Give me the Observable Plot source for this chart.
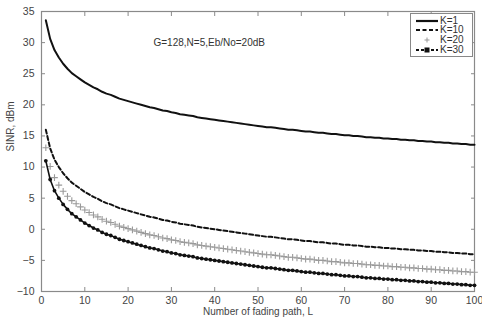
<!DOCTYPE html>
<html>
<head>
<meta charset="utf-8">
<script src="https://cdn.jsdelivr.net/npm/d3@7"></script>
<script src="https://cdn.jsdelivr.net/npm/@observablehq/plot@0.6"></script>
<style>
  html, body { margin: 0; padding: 0; background: #fff; }
  #wrap { position: relative; width: 482px; height: 322px; font-family: "Liberation Sans", Arial, sans-serif; }
  #legend { position: absolute; left: 410px; top: 13px; width: 63px; height: 44px; background: #fff; border: 1px solid #888; box-sizing: border-box; font-size: 10px; color: #333; }
  #legend .row { position: absolute; left: 0; height: 10px; width: 100%; }
  #legend svg { position: absolute; left: 4px; top: 0; }
  #legend span { position: absolute; left: 29px; top: -1px; line-height: 11px; }
</style>
</head>
<body>
<div id="wrap"><div id="chart"></div><div id="legend"></div></div>
<script>
const L = d3.range(1, 101);
const seriesNames = ["K=1", "K=10", "K=20", "K=30"];
const sinrK1 = [33.6, 30.6, 28.8, 27.6, 26.6, 25.8, 25.1, 24.6, 24.1, 23.6,
  23.2, 22.8, 22.5, 22.1, 21.8, 21.6, 21.3, 21.0, 20.8, 20.6,
  20.4, 20.2, 20.0, 19.8, 19.6, 19.5, 19.3, 19.1, 19.0, 18.8,
  18.7, 18.5, 18.4, 18.3, 18.2, 18.0, 17.9, 17.8, 17.7, 17.6,
  17.5, 17.4, 17.3, 17.2, 17.1, 17.0, 16.9, 16.8, 16.7, 16.6,
  16.5, 16.4, 16.4, 16.3, 16.2, 16.1, 16.0, 16.0, 15.9, 15.8,
  15.7, 15.7, 15.6, 15.5, 15.5, 15.4, 15.3, 15.3, 15.2, 15.1,
  15.1, 15.0, 15.0, 14.9, 14.8, 14.8, 14.7, 14.7, 14.6, 14.6,
  14.5, 14.5, 14.4, 14.4, 14.3, 14.3, 14.2, 14.2, 14.1, 14.1,
  14.0, 14.0, 13.9, 13.9, 13.8, 13.8, 13.7, 13.7, 13.6, 13.6];
const sinrK10 = [16.0, 13.0, 11.2, 10.0, 9.0, 8.2, 7.5, 7.0, 6.5, 6.0,
  5.6, 5.2, 4.9, 4.5, 4.2, 4.0, 3.7, 3.4, 3.2, 3.0,
  2.8, 2.6, 2.4, 2.2, 2.0, 1.9, 1.7, 1.5, 1.4, 1.2,
  1.1, 0.9, 0.8, 0.7, 0.6, 0.4, 0.3, 0.2, 0.1, 0.0,
  -0.1, -0.2, -0.3, -0.4, -0.5, -0.6, -0.7, -0.8, -0.9, -1.0,
  -1.1, -1.2, -1.2, -1.3, -1.4, -1.5, -1.6, -1.6, -1.7, -1.8,
  -1.9, -1.9, -2.0, -2.1, -2.1, -2.2, -2.3, -2.3, -2.4, -2.5,
  -2.5, -2.6, -2.6, -2.7, -2.8, -2.8, -2.9, -2.9, -3.0, -3.0,
  -3.1, -3.1, -3.2, -3.2, -3.3, -3.3, -3.4, -3.4, -3.5, -3.5,
  -3.6, -3.6, -3.7, -3.7, -3.8, -3.8, -3.9, -3.9, -4.0, -4.0];
const sinrK20 = [13.1, 10.1, 8.3, 7.1, 6.1, 5.3, 4.6, 4.1, 3.6, 3.1,
  2.7, 2.3, 2.0, 1.6, 1.3, 1.1, 0.8, 0.5, 0.3, 0.1,
  -0.1, -0.3, -0.5, -0.7, -0.9, -1.0, -1.2, -1.4, -1.5, -1.7,
  -1.8, -2.0, -2.1, -2.2, -2.3, -2.5, -2.6, -2.7, -2.8, -2.9,
  -3.0, -3.1, -3.2, -3.3, -3.4, -3.5, -3.6, -3.7, -3.8, -3.9,
  -4.0, -4.1, -4.1, -4.2, -4.3, -4.4, -4.5, -4.5, -4.6, -4.7,
  -4.8, -4.8, -4.9, -5.0, -5.0, -5.1, -5.2, -5.2, -5.3, -5.4,
  -5.4, -5.5, -5.5, -5.6, -5.7, -5.7, -5.8, -5.8, -5.9, -5.9,
  -6.0, -6.0, -6.1, -6.1, -6.2, -6.2, -6.3, -6.3, -6.4, -6.4,
  -6.5, -6.5, -6.6, -6.6, -6.7, -6.7, -6.8, -6.8, -6.9, -6.9];
const sinrK30 = [11.0, 8.0, 6.2, 5.0, 4.0, 3.2, 2.5, 2.0, 1.5, 1.0,
  0.6, 0.2, -0.1, -0.5, -0.8, -1.0, -1.3, -1.6, -1.8, -2.0,
  -2.2, -2.4, -2.6, -2.8, -3.0, -3.1, -3.3, -3.5, -3.6, -3.8,
  -3.9, -4.1, -4.2, -4.3, -4.4, -4.6, -4.7, -4.8, -4.9, -5.0,
  -5.1, -5.2, -5.3, -5.4, -5.5, -5.6, -5.7, -5.8, -5.9, -6.0,
  -6.1, -6.2, -6.2, -6.3, -6.4, -6.5, -6.6, -6.6, -6.7, -6.8,
  -6.9, -6.9, -7.0, -7.1, -7.1, -7.2, -7.3, -7.3, -7.4, -7.5,
  -7.5, -7.6, -7.6, -7.7, -7.8, -7.8, -7.9, -7.9, -8.0, -8.0,
  -8.1, -8.1, -8.2, -8.2, -8.3, -8.3, -8.4, -8.4, -8.5, -8.5,
  -8.6, -8.6, -8.7, -8.7, -8.8, -8.8, -8.9, -8.9, -9.0, -9.0];
const xTicks = [0, 10, 20, 30, 40, 50, 60, 70, 80, 90, 100];
const yTicks = [-10, -5, 0, 5, 10, 15, 20, 25, 30, 35];
const annotation = "G=128,N=5,Eb/No=20dB";
const xLabel = "Number of fading path, L";
const yLabel = "SINR, dBm";

const toRows = (vals) => L.map((l, i) => ({L: l, v: vals[i]}));
const d1 = toRows(sinrK1), d10 = toRows(sinrK10), d20 = toRows(sinrK20), d30 = toRows(sinrK30);

const axisColor = "#8a8a8a";
const textColor = "#444";

const chart = Plot.plot({
  width: 482,
  height: 322,
  marginLeft: 41,
  marginRight: 8,
  marginTop: 11,
  marginBottom: 31,
  style: {fontFamily: "'Liberation Sans', Arial, sans-serif", fontSize: "10.5px", background: "#fff"},
  x: {domain: [0, 100], ticks: xTicks, label: null},
  y: {domain: [-10, 35], ticks: yTicks, label: null},
  marks: [
    Plot.frame({stroke: axisColor, strokeWidth: 1.2}),
    Plot.axisX(xTicks, {anchor: "bottom", tickSize: -4, tickPadding: 9, stroke: axisColor, fill: textColor, label: null}),
    Plot.axisX(xTicks, {anchor: "top", tickSize: -4, stroke: axisColor, fill: "none", label: null}),
    Plot.axisY(yTicks, {anchor: "left", tickSize: -4, tickPadding: 11, stroke: axisColor, fill: textColor, label: null}),
    Plot.axisY(yTicks, {anchor: "right", tickSize: -4, stroke: axisColor, fill: "none", label: null}),
    Plot.line(d1, {x: "L", y: "v", stroke: "#111", strokeWidth: 2}),
    Plot.line(d10, {x: "L", y: "v", stroke: "#111", strokeWidth: 2, strokeDasharray: "4,2.5"}),
    Plot.dot(d20, {x: "L", y: "v", symbol: "plus", r: 2.3, stroke: "#9a9a9a", strokeWidth: 1.1}),
    Plot.line(d30, {x: "L", y: "v", stroke: "#111", strokeWidth: 1.6}),
    Plot.dot(d30, {x: "L", y: "v", symbol: "circle", r: 1.9, fill: "#111", stroke: "none"}),
    Plot.text([annotation], {frameAnchor: "top-left", dx: 112, dy: 27, text: d => d, fill: "#333", fontSize: 10, textAnchor: "start"}),
    Plot.text([xLabel], {frameAnchor: "bottom", dy: 23, text: d => d, fill: textColor, fontSize: 10}),
    Plot.text([yLabel], {frameAnchor: "left", dx: -31, rotate: -90, text: d => d, fill: textColor, fontSize: 10})
  ]
});
document.getElementById("chart").appendChild(chart);

// Legend
const legend = document.getElementById("legend");
const styles = [
  {line: true, dash: null, w: 2.2, marker: null},
  {line: true, dash: "4,2.5", w: 2, marker: null},
  {line: false, dash: null, w: 0, marker: "plus"},
  {line: true, dash: "3,2", w: 1.8, marker: "dot"}
];
seriesNames.forEach((name, i) => {
  const row = document.createElement("div");
  row.className = "row";
  row.style.top = (1.5 + i * 9.8) + "px";
  const s = styles[i];
  let svg = `<svg width="24" height="10" viewBox="0 0 24 10">`;
  if (s.line) svg += `<line x1="1" y1="5" x2="23" y2="5" stroke="#111" stroke-width="${s.w}" ${s.dash ? `stroke-dasharray="${s.dash}"` : ""}/>`;
  if (s.marker === "plus") svg += `<path d="M12,2.5V7.5M9.5,5H14.5" stroke="#999" stroke-width="1"/>`;
  if (s.marker === "dot") svg += `<rect x="9.5" y="2.5" width="5" height="5" fill="#111"/>`;
  svg += `</svg>`;
  row.innerHTML = svg + `<span>${name}</span>`;
  legend.appendChild(row);
});
</script>
</body>
</html>
